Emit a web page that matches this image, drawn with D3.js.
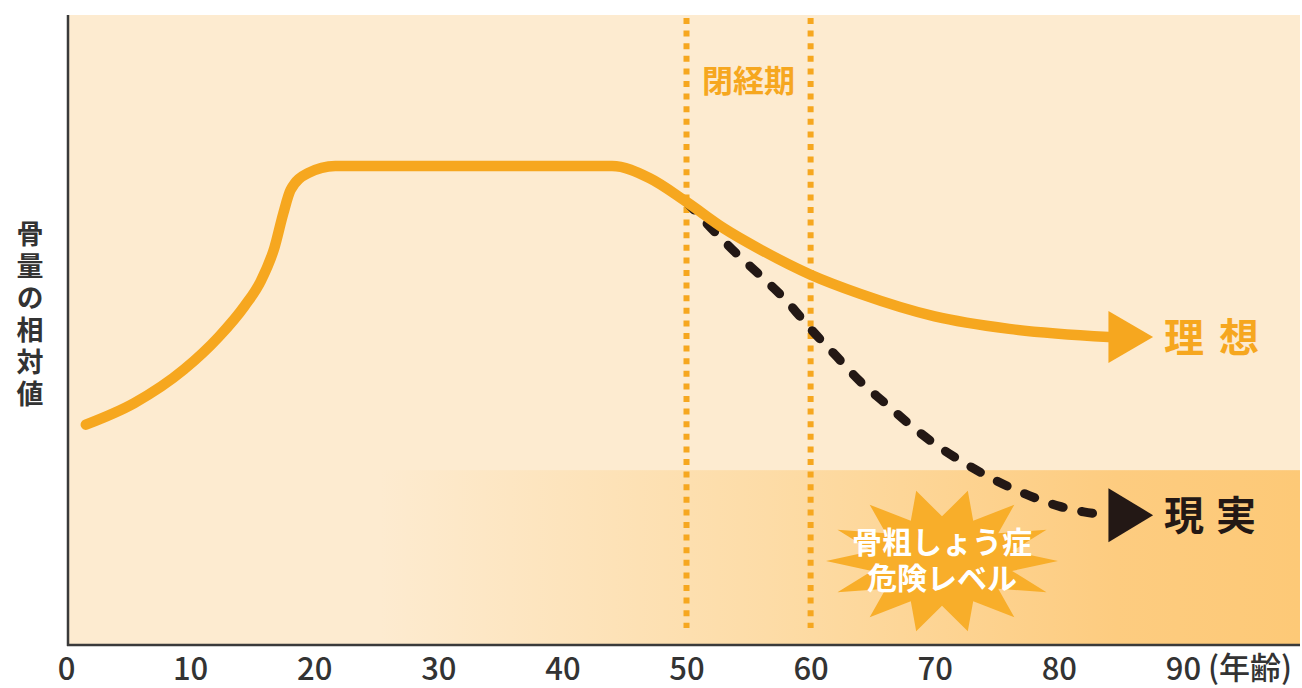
<!DOCTYPE html>
<html lang="ja">
<head>
<meta charset="utf-8">
<script src="https://cdn.jsdelivr.net/npm/d3@7"></script>
<style>
  html, body { margin: 0; padding: 0; background: #ffffff; }
  svg { display: block; }
  text { font-family: "Noto Sans CJK JP", "Noto Sans", sans-serif; }
</style>
</head>
<body>
<svg id="chart" width="1302" height="688"></svg>
<script>
// 年齢（歳）と骨量の相対値（ピーク時 = 100）
const idealAges   = [1.6, 5.5, 9.5, 12.3, 14.4, 15.7, 16.8, 17.5, 18.1, 19.5, 21.7, 30, 40, 44, 47, 50, 53, 56, 60, 64, 70, 76, 84];
const idealValues = [46, 50.5, 57.5, 64.3, 70.8, 76, 83, 90, 95, 98.5, 100, 100, 100, 100, 97.5, 92.5, 87, 82.5, 77.3, 73.3, 68.6, 66, 64.3];

const realAges   = [50, 52, 54, 56, 58, 60, 62, 64, 66, 68, 70, 72, 74, 76, 78, 80, 82, 84];
const realValues = [92.5, 87.0, 81.8, 77.0, 72.0, 66.0, 60.5, 55.0, 50.5, 46.0, 42.0, 38.6, 35.6, 33.0, 30.8, 29.0, 27.8, 27.1];

const tickAges = [0, 10, 20, 30, 40, 50, 60, 70, 80, 90];
const menopause = [50, 60];          // 閉経期の範囲
const riskLevel = 36.5;              // 骨粗しょう症危険レベルの上限
const arrowTipAge = 87.6;

const seriesLabels = { ideal: "理想", real: "現実" };
const axisTitleY = "骨量の相対値";
const axisUnitX = "(年齢)";
const menopauseLabel = "閉経期";
const riskLines = ["骨粗しょう症", "危険レベル"];

const ORANGE = "#f6a71f";
const DARK = "#231815";
const BG = "#fdebd0";

const svg = d3.select("#chart");

const plot = { left: 68, right: 1300, top: 15, bottom: 645 };

const x = d3.scaleLinear().domain([0, 100]).range([66, 1307]);
const y = d3.scaleLinear().domain([0, 100]).range([645, 166]);

// 危険レベル帯のグラデーション
const defs = svg.append("defs");
const grad = defs.append("linearGradient")
  .attr("id", "riskGrad")
  .attr("gradientUnits", "userSpaceOnUse")
  .attr("x1", 380).attr("x2", plot.right).attr("y1", 0).attr("y2", 0);
grad.append("stop").attr("offset", 0).attr("stop-color", BG);
grad.append("stop").attr("offset", 0.45).attr("stop-color", "#fddba4");
grad.append("stop").attr("offset", 0.8).attr("stop-color", "#fdcc80");
grad.append("stop").attr("offset", 1).attr("stop-color", "#fdc977");

// 背景
svg.append("rect")
  .attr("x", plot.left).attr("y", plot.top)
  .attr("width", plot.right - plot.left).attr("height", plot.bottom - plot.top)
  .attr("fill", BG);

// 危険レベル帯
svg.append("rect")
  .attr("x", plot.left).attr("y", y(riskLevel))
  .attr("width", plot.right - plot.left).attr("height", plot.bottom - y(riskLevel))
  .attr("fill", "url(#riskGrad)");

// 閉経期の点線
svg.selectAll("line.meno")
  .data(menopause)
  .join("line")
  .attr("class", "meno")
  .attr("x1", d => x(d)).attr("x2", d => x(d))
  .attr("y1", 18).attr("y2", 628)
  .attr("stroke", ORANGE)
  .attr("stroke-width", 6)
  .attr("stroke-dasharray", "6 6.6");

svg.append("text")
  .attr("x", (x(menopause[0]) + x(menopause[1])) / 2)
  .attr("y", 92)
  .attr("text-anchor", "middle")
  .attr("font-size", 31)
  .attr("font-weight", 700)
  .attr("fill", ORANGE)
  .text(menopauseLabel);

// 星形（骨粗しょう症危険レベル）
const star = { cx: 942, cy: 561, rx: 116, ry: 72, n: 14, inner: 0.62 };
const starPts = d3.range(star.n * 2).map(i => {
  const a = -Math.PI / 2 + Math.PI / star.n + i * Math.PI / star.n;
  const r = i % 2 === 0 ? 1 : star.inner;
  return [star.cx + Math.cos(a) * star.rx * r, star.cy + Math.sin(a) * star.ry * r];
});
svg.append("path")
  .attr("d", d3.line()(starPts) + "Z")
  .attr("fill", "#f8ae2a");

const riskText = svg.append("text")
  .attr("text-anchor", "middle")
  .attr("font-size", 30)
  .attr("font-weight", 700)
  .attr("fill", "#ffffff");
riskText.selectAll("tspan")
  .data(riskLines)
  .join("tspan")
  .attr("x", star.cx)
  .attr("y", (d, i) => 553 + i * 36)
  .text(d => d);

// 線の生成
const realData = realAges.map((a, i) => [a, realValues[i]]);
const idealData = idealAges.map((a, i) => [a, idealValues[i]]);
const lineGen = d3.line()
  .x(d => x(d[0]))
  .y(d => y(d[1]))
  .curve(d3.curveMonotoneX);

// 現実（破線）
svg.append("path")
  .attr("d", lineGen(realData))
  .attr("fill", "none")
  .attr("stroke", DARK)
  .attr("stroke-width", 9)
  .attr("stroke-linecap", "round")
  .attr("stroke-dasharray", "11 19");

// 理想（実線）
svg.append("path")
  .attr("d", lineGen(idealData))
  .attr("fill", "none")
  .attr("stroke", ORANGE)
  .attr("stroke-width", 10.5)
  .attr("stroke-linecap", "round")
  .attr("stroke-linejoin", "round");

// 矢じり
function arrowHead(lastAge, lastVal, color, half) {
  const bx = x(lastAge), by = y(lastVal), tx = x(arrowTipAge);
  svg.append("path")
    .attr("d", `M${bx},${by - half}L${tx},${by}L${bx},${by + half}Z`)
    .attr("fill", color);
}
arrowHead(idealAges[idealAges.length - 1], idealValues[idealValues.length - 1], ORANGE, 26);
arrowHead(realAges[realAges.length - 1], realValues[realValues.length - 1], DARK, 27);

// 系列ラベル
svg.append("text")
  .attr("x", 1164).attr("y", y(idealValues[idealValues.length - 1]) + 15)
  .attr("font-size", 40).attr("font-weight", 700)
  .attr("letter-spacing", 15)
  .attr("fill", ORANGE)
  .text(seriesLabels.ideal);

svg.append("text")
  .attr("x", 1164).attr("y", y(realValues[realValues.length - 1]) + 15)
  .attr("font-size", 40).attr("font-weight", 700)
  .attr("letter-spacing", 12)
  .attr("fill", DARK)
  .text(seriesLabels.real);

// 横軸
const xAxis = d3.axisBottom(x).tickValues(tickAges).tickSize(0).tickPadding(13).tickFormat(d3.format("d"));
const gx = svg.append("g")
  .attr("transform", `translate(0,${plot.bottom})`)
  .call(xAxis);
gx.select(".domain").remove();
gx.selectAll("text")
  .attr("font-size", 31)
  .attr("font-weight", 500)
  .attr("fill", "#333333")
  .style("font-family", '"Noto Sans CJK JP", sans-serif');

svg.append("text")
  .attr("x", 1208).attr("y", 679)
  .attr("font-size", 31)
  .attr("font-weight", 500)
  .attr("fill", "#333333")
  .text(axisUnitX);

svg.append("line")
  .attr("x1", plot.left).attr("x2", plot.left)
  .attr("y1", plot.top).attr("y2", plot.bottom + 1)
  .attr("stroke", "#3a3a3a").attr("stroke-width", 2.5);
svg.append("line")
  .attr("x1", plot.left - 1).attr("x2", plot.right)
  .attr("y1", plot.bottom).attr("y2", plot.bottom)
  .attr("stroke", "#3a3a3a").attr("stroke-width", 2.5);

// 縦軸タイトル（縦書き）
svg.append("text")
  .attr("x", 30).attr("y", 220)
  .attr("font-size", 27)
  .attr("font-weight", 700)
  .attr("fill", "#333333")
  .attr("letter-spacing", 5)
  .style("writing-mode", "vertical-rl")
  .style("text-orientation", "upright")
  .text(axisTitleY);
</script>
</body>
</html>
